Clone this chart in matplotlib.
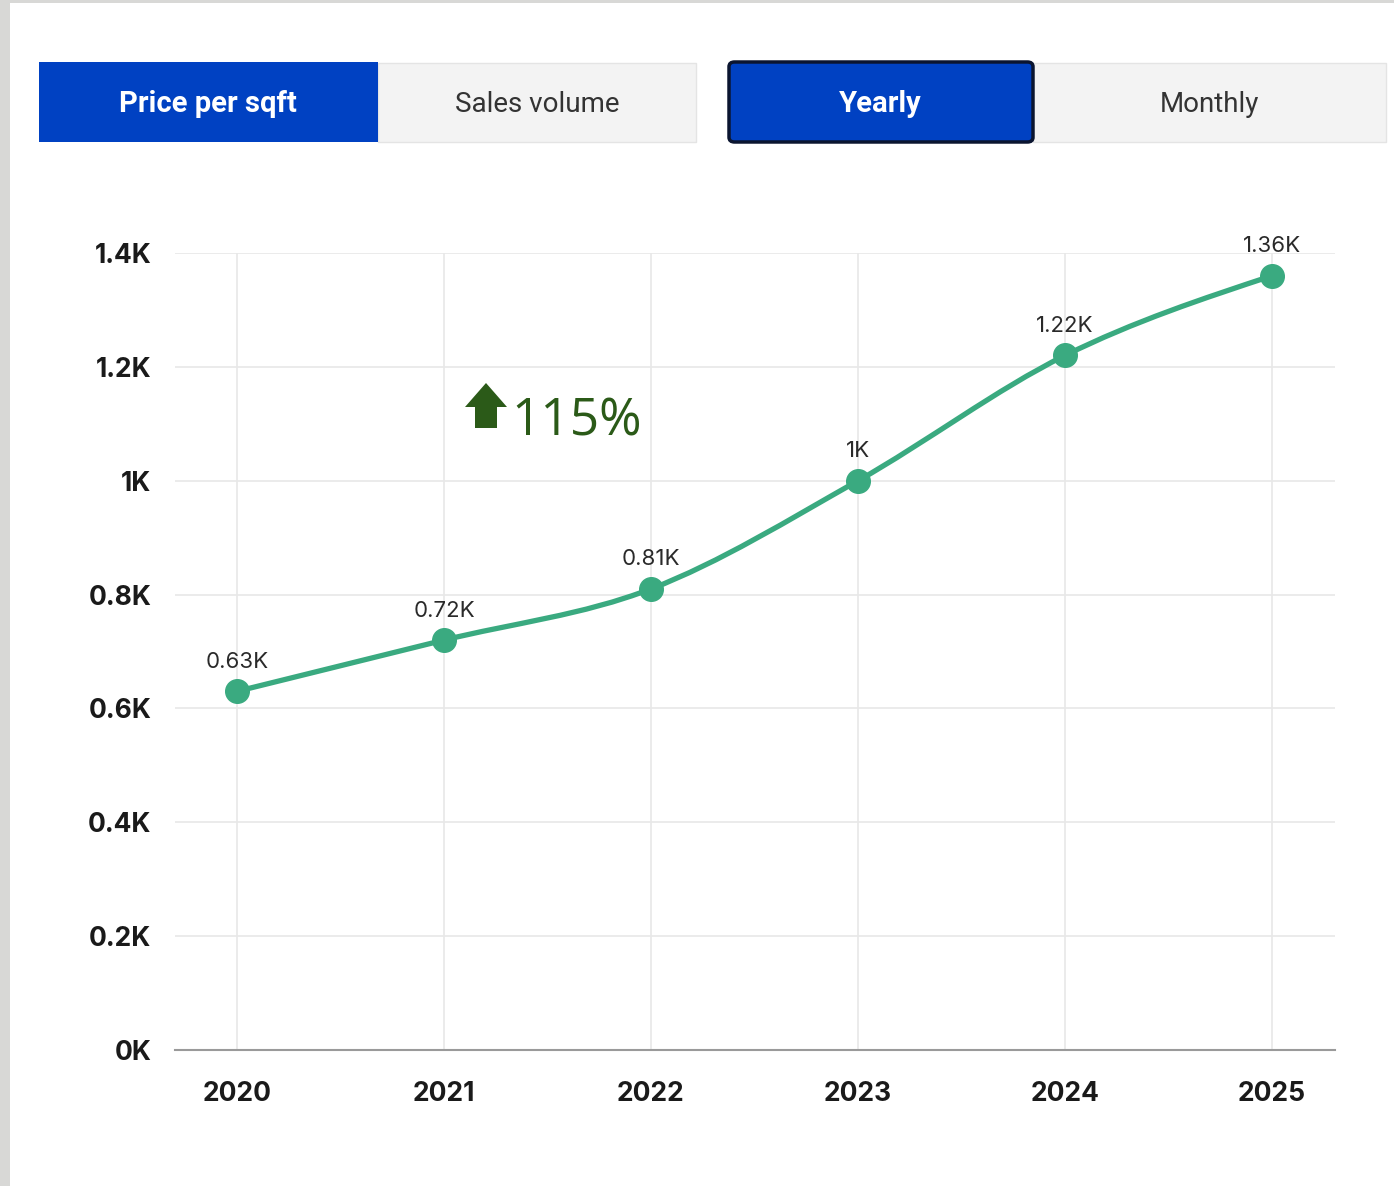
import matplotlib
matplotlib.use("Agg")
import matplotlib.pyplot as plt
from matplotlib.patches import Rectangle, FancyBboxPatch, Polygon, PathPatch
from matplotlib.path import Path
import numpy as np

years = [2020, 2021, 2022, 2023, 2024, 2025]
price = [630, 720, 810, 1000, 1220, 1360]
point_labels = ["0.63K", "0.72K", "0.81K", "1K", "1.22K", "1.36K"]
yticks = [0, 200, 400, 600, 800, 1000, 1200, 1400]
ytick_labels = ["0K", "0.2K", "0.4K", "0.6K", "0.8K", "1K", "1.2K", "1.4K"]
change_text = "115%"

W, H = 1394, 1186
fig = plt.figure(figsize=(W / 100, H / 100), dpi=100)
fig.patch.set_facecolor("white")

def px(x, y):
    return x / W, 1 - y / H

# page border strips
fig.add_artist(Rectangle((0, 0), 10 / W, 1, transform=fig.transFigure, color="#d8d8d6", lw=0))
fig.add_artist(Rectangle((0, 1 - 3 / H), 1, 3 / H, transform=fig.transFigure, color="#d8d8d6", lw=0))

BLUE = "#0041c2"
GREY = "#f3f3f3"
FONT = "Roboto"

def box(x0, y0, x1, y1, fc, ec=None, lw=0, rounded=False):
    xa, ya = px(x0, y1)
    w, h = (x1 - x0) / W, (y1 - y0) / H
    if rounded:
        p = FancyBboxPatch((xa, ya), w, h, boxstyle="round,pad=0,rounding_size=0.004",
                           transform=fig.transFigure, fc=fc, ec=ec, lw=lw)
    else:
        p = Rectangle((xa, ya), w, h, transform=fig.transFigure, fc=fc,
                      ec=ec if ec else "none", lw=lw)
    fig.add_artist(p)

box(378, 63, 696, 142, GREY, ec="#e4e4e4", lw=1)
box(39, 62, 378, 142, BLUE)
box(1033, 63, 1386, 142, GREY, ec="#e4e4e4", lw=1)
box(729, 62, 1033, 142, BLUE, ec="#0b1530", lw=2.5, rounded=True)

fig.text(*px(208, 104), "Price per sqft", color="white", fontsize=21, fontweight="bold",
         family=FONT, ha="center", va="center")
fig.text(*px(537, 104), "Sales volume", color="#333333", fontsize=20,
         family=FONT, ha="center", va="center")
fig.text(*px(880, 104), "Yearly", color="white", fontsize=21, fontweight="bold",
         family=FONT, ha="center", va="center")
fig.text(*px(1209, 104), "Monthly", color="#333333", fontsize=20,
         family=FONT, ha="center", va="center")

# axes
l, b = px(175, 1050)
r, t = px(1335, 253)
ax = fig.add_axes([l, b, r - l, t - b])
ax.set_xlim(2020 - 62 / 207, 2025 + 63 / 207)
ax.set_ylim(0, 1400)
for s in ["top", "right", "left"]:
    ax.spines[s].set_visible(False)
ax.spines["bottom"].set_color("#9a9a9a")
ax.spines["bottom"].set_linewidth(1.5)
ax.set_yticks(yticks)
ax.set_yticklabels(ytick_labels)
ax.set_xticks(years)
ax.set_xticklabels([str(y) for y in years])
ax.tick_params(length=0)
ax.tick_params(axis="y", pad=17)
ax.tick_params(axis="x", pad=22)
for lab in ax.get_yticklabels() + ax.get_xticklabels():
    lab.set_fontsize(19)
    lab.set_fontweight("bold")
    lab.set_family("Inter")
    lab.set_color("#1a1a1a")
ax.grid(True, color="#e8e8e8", lw=1.2)
ax.set_axisbelow(True)

# monotone-x curve (d3 curveMonotoneX style) through the data points
x = np.array(years, float)
y = np.array(price, float)
n = len(x)
h = np.diff(x)
s = np.diff(y) / h
m = np.zeros(n)
for i in range(1, n - 1):
    if s[i - 1] * s[i] <= 0:
        m[i] = 0
    else:
        p = (s[i - 1] * h[i] + s[i] * h[i - 1]) / (h[i - 1] + h[i])
        m[i] = (np.sign(s[i - 1]) + np.sign(s[i])) * min(abs(s[i - 1]), abs(s[i]), 0.5 * abs(p))
m[0] = (3 * s[0] - m[1]) / 2 if n > 1 else 0
m[-1] = (3 * s[-1] - m[-2]) / 2
verts = [(x[0], y[0])]
codes = [Path.MOVETO]
for i in range(n - 1):
    dx = h[i] / 3
    verts += [(x[i] + dx, y[i] + m[i] * dx), (x[i + 1] - dx, y[i + 1] - m[i + 1] * dx), (x[i + 1], y[i + 1])]
    codes += [Path.CURVE4] * 3
GREEN = "#3aaa80"
ax.add_patch(PathPatch(Path(verts, codes), fc="none", ec=GREEN, lw=3.8, capstyle="round", zorder=3))
ax.plot(years, price, "o", ms=17, color=GREEN, zorder=4, clip_on=False)

for xx, yy, lab in zip(years, price, point_labels):
    ax.annotate(lab, (xx, yy), xytext=(0, 14), textcoords="offset points",
                ha="center", va="bottom", fontsize=16, family="Inter", color="#2a2a2a",
                zorder=5, annotation_clip=False)

# change annotation
arrow_pts = [(465, 407), (486, 383), (507, 407), (497, 407), (497, 428), (475, 428), (475, 407)]
fig.add_artist(Polygon([px(*p) for p in arrow_pts], closed=True, transform=fig.transFigure,
                       fc="#2b5a18", ec="none"))
fig.text(*px(511, 422), change_text, color="#2b5a18", fontsize=37, family="Open Sans",
         ha="left", va="center")

fig.savefig("out.png", dpi=100, facecolor="white")
